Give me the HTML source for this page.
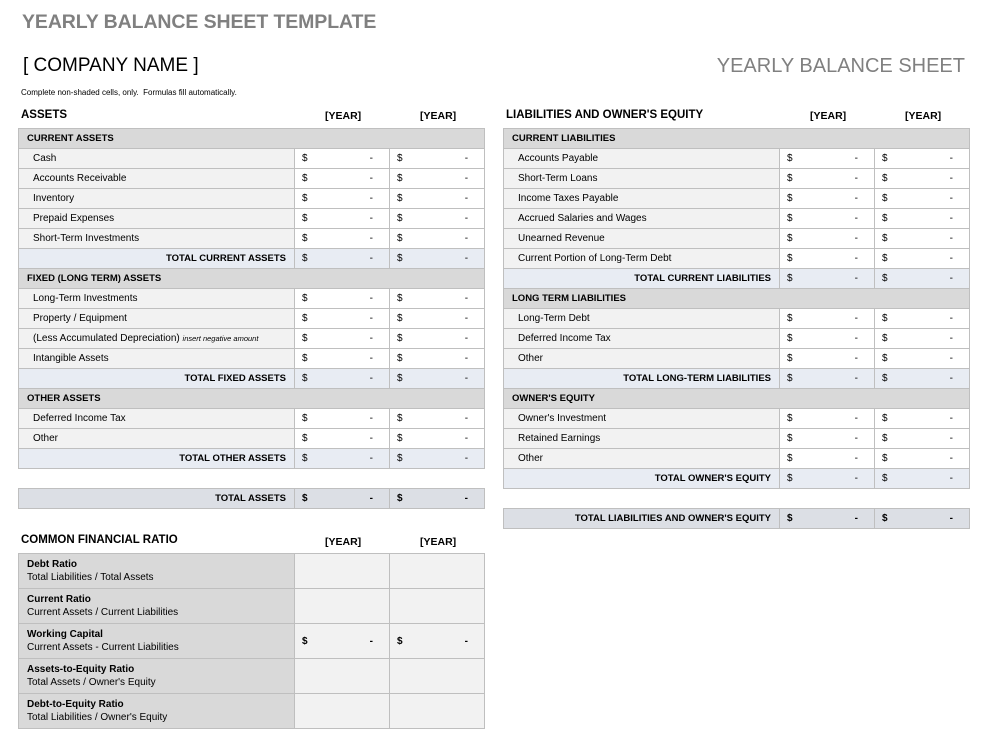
<!DOCTYPE html>
<html><head><meta charset="utf-8"><style>
body{margin:0;width:991px;height:755px;background:#fff;font-family:"Liberation Sans",sans-serif;color:#000;position:relative;overflow:hidden}
.a{position:absolute}
table{position:absolute;border-collapse:collapse;table-layout:fixed;font-size:10px;width:466px}
td{border:1px solid #bfbfbf;height:20px;padding:0;white-space:nowrap;overflow:hidden;box-sizing:border-box}
td.v{padding-left:7px}
td.v span.s{float:left}
td.v i{font-style:normal;float:right;margin-right:16px}
tr.h td{background:#d9d9d9;font-weight:bold;padding-left:8px;font-size:9.5px}
tr.d td.l{background:#f2f2f2;padding-left:14px}
tr.d td.v{background:#fff}
tr.t td{background:#e8ecf3}
tr.t td.l{text-align:right;padding-right:8px;font-weight:bold;font-size:9.5px}
tr.g td{background:#dcdfe5}
tr.g td.l{text-align:right;padding-right:8px;font-weight:bold;font-size:9.5px}
tr.g td.v{font-weight:bold}
.hd{font-weight:bold;font-size:11.5px}
.yr{font-weight:bold;font-size:10.5px}
tr.r td{height:35px;background:#f2f2f2}
tr.r td.l{background:#d9d9d9;padding-left:8px;line-height:13px}
tr.r td.v{font-weight:bold}
</style></head><body>
<div class="a" style="left:22px;top:11px;font-size:19.5px;font-weight:bold;color:#808080;letter-spacing:-0.1px">YEARLY BALANCE SHEET TEMPLATE</div>
<div class="a" style="left:23px;top:55px;font-size:19px">[ COMPANY NAME ]</div>
<div class="a" style="right:26px;top:55px;font-size:20px;color:#808080">YEARLY BALANCE SHEET</div>
<div class="a" style="left:21px;top:88px;font-size:8px">Complete non-shaded cells, only.&nbsp; Formulas fill automatically.</div>

<div class="a hd" style="left:21px;top:109px">ASSETS</div>
<div class="a yr" style="left:325px;top:110px">[YEAR]</div>
<div class="a yr" style="left:420px;top:110px">[YEAR]</div>
<table style="left:18px;top:128px">
<colgroup><col style="width:276px"><col style="width:95px"><col style="width:95px"></colgroup>
<tr class="h"><td colspan="3">CURRENT ASSETS</td></tr>
<tr class="d"><td class="l">Cash</td><td class="v"><span class="s">$</span><i>-</i></td><td class="v"><span class="s">$</span><i>-</i></td></tr>
<tr class="d"><td class="l">Accounts Receivable</td><td class="v"><span class="s">$</span><i>-</i></td><td class="v"><span class="s">$</span><i>-</i></td></tr>
<tr class="d"><td class="l">Inventory</td><td class="v"><span class="s">$</span><i>-</i></td><td class="v"><span class="s">$</span><i>-</i></td></tr>
<tr class="d"><td class="l">Prepaid Expenses</td><td class="v"><span class="s">$</span><i>-</i></td><td class="v"><span class="s">$</span><i>-</i></td></tr>
<tr class="d"><td class="l">Short-Term Investments</td><td class="v"><span class="s">$</span><i>-</i></td><td class="v"><span class="s">$</span><i>-</i></td></tr>
<tr class="t"><td class="l">TOTAL CURRENT ASSETS</td><td class="v"><span class="s">$</span><i>-</i></td><td class="v"><span class="s">$</span><i>-</i></td></tr>
<tr class="h"><td colspan="3">FIXED (LONG TERM) ASSETS</td></tr>
<tr class="d"><td class="l">Long-Term Investments</td><td class="v"><span class="s">$</span><i>-</i></td><td class="v"><span class="s">$</span><i>-</i></td></tr>
<tr class="d"><td class="l">Property / Equipment</td><td class="v"><span class="s">$</span><i>-</i></td><td class="v"><span class="s">$</span><i>-</i></td></tr>
<tr class="d"><td class="l">(Less Accumulated Depreciation) <span style="font-size:7.5px;font-style:italic">insert negative amount</span></td><td class="v"><span class="s">$</span><i>-</i></td><td class="v"><span class="s">$</span><i>-</i></td></tr>
<tr class="d"><td class="l">Intangible Assets</td><td class="v"><span class="s">$</span><i>-</i></td><td class="v"><span class="s">$</span><i>-</i></td></tr>
<tr class="t"><td class="l">TOTAL FIXED ASSETS</td><td class="v"><span class="s">$</span><i>-</i></td><td class="v"><span class="s">$</span><i>-</i></td></tr>
<tr class="h"><td colspan="3">OTHER ASSETS</td></tr>
<tr class="d"><td class="l">Deferred Income Tax</td><td class="v"><span class="s">$</span><i>-</i></td><td class="v"><span class="s">$</span><i>-</i></td></tr>
<tr class="d"><td class="l">Other</td><td class="v"><span class="s">$</span><i>-</i></td><td class="v"><span class="s">$</span><i>-</i></td></tr>
<tr class="t"><td class="l">TOTAL OTHER ASSETS</td><td class="v"><span class="s">$</span><i>-</i></td><td class="v"><span class="s">$</span><i>-</i></td></tr>
</table>
<table style="left:18px;top:488px">
<colgroup><col style="width:276px"><col style="width:95px"><col style="width:95px"></colgroup>
<tr class="g"><td class="l">TOTAL ASSETS</td><td class="v"><span class="s">$</span><i>-</i></td><td class="v"><span class="s">$</span><i>-</i></td></tr>
</table>

<div class="a hd" style="left:506px;top:109px">LIABILITIES AND OWNER'S EQUITY</div>
<div class="a yr" style="left:810px;top:110px">[YEAR]</div>
<div class="a yr" style="left:905px;top:110px">[YEAR]</div>
<table style="left:503px;top:128px">
<colgroup><col style="width:276px"><col style="width:95px"><col style="width:95px"></colgroup>
<tr class="h"><td colspan="3">CURRENT LIABILITIES</td></tr>
<tr class="d"><td class="l">Accounts Payable</td><td class="v"><span class="s">$</span><i>-</i></td><td class="v"><span class="s">$</span><i>-</i></td></tr>
<tr class="d"><td class="l">Short-Term Loans</td><td class="v"><span class="s">$</span><i>-</i></td><td class="v"><span class="s">$</span><i>-</i></td></tr>
<tr class="d"><td class="l">Income Taxes Payable</td><td class="v"><span class="s">$</span><i>-</i></td><td class="v"><span class="s">$</span><i>-</i></td></tr>
<tr class="d"><td class="l">Accrued Salaries and Wages</td><td class="v"><span class="s">$</span><i>-</i></td><td class="v"><span class="s">$</span><i>-</i></td></tr>
<tr class="d"><td class="l">Unearned Revenue</td><td class="v"><span class="s">$</span><i>-</i></td><td class="v"><span class="s">$</span><i>-</i></td></tr>
<tr class="d"><td class="l">Current Portion of Long-Term Debt</td><td class="v"><span class="s">$</span><i>-</i></td><td class="v"><span class="s">$</span><i>-</i></td></tr>
<tr class="t"><td class="l">TOTAL CURRENT LIABILITIES</td><td class="v"><span class="s">$</span><i>-</i></td><td class="v"><span class="s">$</span><i>-</i></td></tr>
<tr class="h"><td colspan="3">LONG TERM LIABILITIES</td></tr>
<tr class="d"><td class="l">Long-Term Debt</td><td class="v"><span class="s">$</span><i>-</i></td><td class="v"><span class="s">$</span><i>-</i></td></tr>
<tr class="d"><td class="l">Deferred Income Tax</td><td class="v"><span class="s">$</span><i>-</i></td><td class="v"><span class="s">$</span><i>-</i></td></tr>
<tr class="d"><td class="l">Other</td><td class="v"><span class="s">$</span><i>-</i></td><td class="v"><span class="s">$</span><i>-</i></td></tr>
<tr class="t"><td class="l">TOTAL LONG-TERM LIABILITIES</td><td class="v"><span class="s">$</span><i>-</i></td><td class="v"><span class="s">$</span><i>-</i></td></tr>
<tr class="h"><td colspan="3">OWNER'S EQUITY</td></tr>
<tr class="d"><td class="l">Owner's Investment</td><td class="v"><span class="s">$</span><i>-</i></td><td class="v"><span class="s">$</span><i>-</i></td></tr>
<tr class="d"><td class="l">Retained Earnings</td><td class="v"><span class="s">$</span><i>-</i></td><td class="v"><span class="s">$</span><i>-</i></td></tr>
<tr class="d"><td class="l">Other</td><td class="v"><span class="s">$</span><i>-</i></td><td class="v"><span class="s">$</span><i>-</i></td></tr>
<tr class="t"><td class="l">TOTAL OWNER'S EQUITY</td><td class="v"><span class="s">$</span><i>-</i></td><td class="v"><span class="s">$</span><i>-</i></td></tr>
</table>
<table style="left:503px;top:508px">
<colgroup><col style="width:276px"><col style="width:95px"><col style="width:95px"></colgroup>
<tr class="g"><td class="l">TOTAL LIABILITIES AND OWNER'S EQUITY</td><td class="v"><span class="s">$</span><i>-</i></td><td class="v"><span class="s">$</span><i>-</i></td></tr>
</table>

<div class="a hd" style="left:21px;top:534px">COMMON FINANCIAL RATIO</div>
<div class="a yr" style="left:325px;top:536px">[YEAR]</div>
<div class="a yr" style="left:420px;top:536px">[YEAR]</div>
<table style="left:18px;top:553px">
<colgroup><col style="width:276px"><col style="width:95px"><col style="width:95px"></colgroup>
<tr class="r"><td class="l"><b>Debt Ratio</b><br>Total Liabilities / Total Assets</td><td class="v"></td><td class="v"></td></tr>
<tr class="r"><td class="l"><b>Current Ratio</b><br>Current Assets / Current Liabilities</td><td class="v"></td><td class="v"></td></tr>
<tr class="r"><td class="l"><b>Working Capital</b><br>Current Assets - Current Liabilities</td><td class="v"><span class="s">$</span><i>-</i></td><td class="v"><span class="s">$</span><i>-</i></td></tr>
<tr class="r"><td class="l"><b>Assets-to-Equity Ratio</b><br>Total Assets / Owner's Equity</td><td class="v"></td><td class="v"></td></tr>
<tr class="r"><td class="l"><b>Debt-to-Equity Ratio</b><br>Total Liabilities / Owner's Equity</td><td class="v"></td><td class="v"></td></tr>
</table>
</body></html>
